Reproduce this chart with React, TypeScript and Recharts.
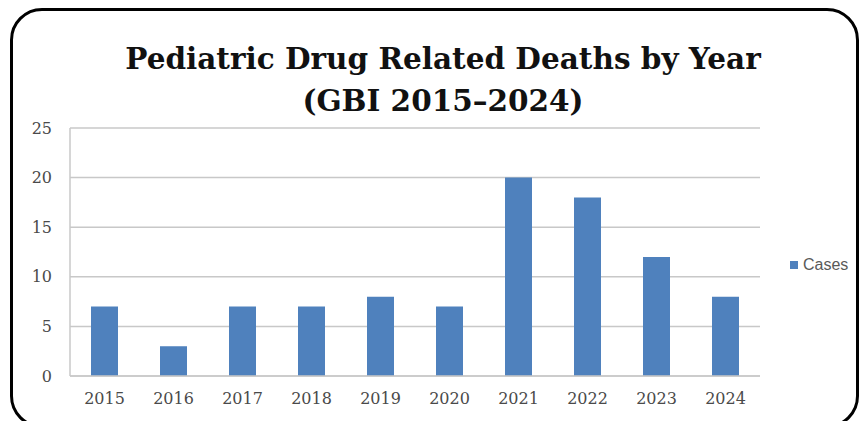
import React from "react";
import { BarChart, Bar, XAxis, YAxis, CartesianGrid } from "recharts";

const years = ["2015", "2016", "2017", "2018", "2019", "2020", "2021", "2022", "2023", "2024"];
const cases = [7, 3, 7, 7, 8, 7, 20, 18, 12, 8];
const yTicks = [0, 5, 10, 15, 20, 25];

const data = years.map((year, i) => ({ year, Cases: cases[i] }));

export default function App() {
  return (
    <div style={{ position: "absolute", left: 0, top: 0, width: 862, height: 421, background: "#fff", overflow: "hidden" }}>
      <div
        style={{
          position: "absolute",
          left: 10,
          top: 8,
          width: 849,
          height: 420,
          border: "3px solid #000",
          borderRadius: 32,
          boxSizing: "border-box",
        }}
      />
      <div
        style={{
          position: "absolute",
          left: 12,
          top: 38,
          width: 862,
          textAlign: "center",
          fontFamily: "'DejaVu Serif', serif",
          fontWeight: "bold",
          fontSize: 29.5,
          lineHeight: "42px",
          color: "#111",
        }}
      >
        Pediatric Drug Related Deaths by Year
        <br />
        (GBI 2015–2024)
      </div>
      <BarChart
        width={862}
        height={421}
        data={data}
        margin={{ top: 128, right: 102, bottom: 15, left: 10 }}
        barCategoryGap={21}
        style={{ position: "absolute", left: 0, top: 0 }}
      >
        <CartesianGrid vertical={false} stroke="#C8C8C8" strokeWidth={1.5} />
        <XAxis
          dataKey="year"
          height={30}
          tickLine={false}
          tickSize={0}
          tickMargin={17}
          axisLine={{ stroke: "#C8C8C8", strokeWidth: 1.5 }}
          tick={{ fill: "#4a4a4a", fontSize: 16, fontFamily: "'DejaVu Serif', serif" }}
        />
        <YAxis
          width={60}
          domain={[0, 25]}
          ticks={yTicks}
          tickLine={false}
          tickSize={0}
          tickMargin={18}
          axisLine={{ stroke: "#C8C8C8", strokeWidth: 1.5 }}
          tick={{ fill: "#4a4a4a", fontSize: 16, fontFamily: "'DejaVu Serif', serif" }}
        />
        <Bar dataKey="Cases" fill="#4F81BD" isAnimationActive={false} />
      </BarChart>
      <div
        style={{
          position: "absolute",
          left: 790,
          top: 256,
          display: "flex",
          alignItems: "center",
          fontFamily: "'Liberation Sans', Arial, sans-serif",
          fontSize: 16,
          color: "#595959",
        }}
      >
        <span style={{ display: "inline-block", width: 8, height: 8, background: "#4F81BD", marginRight: 5 }} />
        <span>Cases</span>
      </div>
    </div>
  );
}
